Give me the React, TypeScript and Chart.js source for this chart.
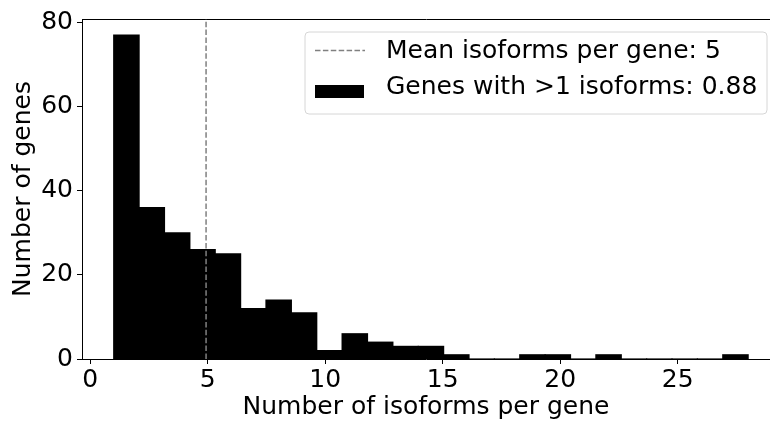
import React, { useEffect, useRef } from "react";
import { Chart, registerables } from "chart.js";

Chart.register(...registerables);

// ---- data ----
const BIN_START = 1;
const BIN_WIDTH = 1.08;
const binCounts = [77, 36, 30, 26, 25, 12, 14, 11, 2, 6, 4, 3, 3, 1, 0, 0, 1, 1, 0, 1, 0, 0, 0, 0, 1];
const MEAN_VALUE = 4.93;
const xTicks = [0, 5, 10, 15, 20, 25];
const yTicks = [0, 20, 40, 60, 80];
const meanLabel = "Mean isoforms per gene: 5";
const barLabel = "Genes with >1 isoforms: 0.88";
const xTitle = "Number of isoforms per gene";
const yTitle = "Number of genes";
const X_MIN = -0.35;
const X_MAX = 28.93;
const Y_MIN = 0;
const Y_MAX = 80.85;

const FONT = "'DejaVu Sans', sans-serif";
const FONT_SIZE = 25;

const legendPlugin = {
  id: "boxLegend",
  afterDraw(chart: any) {
    const ctx: CanvasRenderingContext2D = chart.ctx;
    const area = chart.chartArea;
    const bx = area.left + 223;
    const by = area.top + 13;
    const bw = 462;
    const bh = 82;
    const r = 4;
    ctx.save();
    ctx.beginPath();
    ctx.moveTo(bx + r, by);
    ctx.lineTo(bx + bw - r, by);
    ctx.arcTo(bx + bw, by, bx + bw, by + r, r);
    ctx.lineTo(bx + bw, by + bh - r);
    ctx.arcTo(bx + bw, by + bh, bx + bw - r, by + bh, r);
    ctx.lineTo(bx + r, by + bh);
    ctx.arcTo(bx, by + bh, bx, by + bh - r, r);
    ctx.lineTo(bx, by + r);
    ctx.arcTo(bx, by, bx + r, by, r);
    ctx.closePath();
    ctx.fillStyle = "rgba(255,255,255,0.8)";
    ctx.fill();
    ctx.strokeStyle = "#d6d6d6";
    ctx.lineWidth = 1;
    ctx.stroke();

    const ds = chart.data.datasets;
    const lineDs = ds[0];
    const barDs = ds[1];
    // line sample
    ctx.beginPath();
    ctx.setLineDash([5.5, 2.4]);
    ctx.strokeStyle = lineDs.borderColor;
    ctx.lineWidth = 1.5;
    ctx.moveTo(bx + 10, by + 18.5);
    ctx.lineTo(bx + 60, by + 18.5);
    ctx.stroke();
    ctx.setLineDash([]);
    // bar sample
    ctx.fillStyle = barDs.backgroundColor;
    ctx.fillRect(bx + 10, by + 53, 49, 13);

    ctx.fillStyle = "#000";
    ctx.font = `${FONT_SIZE}px ${FONT}`;
    ctx.textBaseline = "middle";
    ctx.textAlign = "left";
    ctx.fillText(lineDs.label, bx + 81, by + 19);
    ctx.fillText(barDs.label, bx + 81, by + 55);
    ctx.restore();
  },
};

export default function App() {
  const ref = useRef<HTMLCanvasElement | null>(null);

  useEffect(() => {
    if (!ref.current) return;
    const barData = binCounts.map((c, i) => ({ x: BIN_START + BIN_WIDTH * (i + 0.5), y: c }));
    const meanData = [
      { x: MEAN_VALUE, y: Y_MIN },
      { x: MEAN_VALUE, y: Y_MAX },
    ];
    const tickFont = { family: FONT, size: FONT_SIZE };
    const chart = new Chart(ref.current, {
      type: "bar",
      data: {
        datasets: [
          {
            type: "line",
            label: meanLabel,
            data: meanData,
            borderColor: "#808080",
            borderWidth: 1.5,
            borderDash: [5.5, 2.4],
            pointRadius: 0,
            fill: false,
            order: 0,
          } as any,
          {
            type: "bar",
            label: barLabel,
            data: barData,
            backgroundColor: "#000000",
            borderWidth: 0,
            inflateAmount: 0.6,
            barPercentage: 1,
            categoryPercentage: 1,
            order: 1,
          } as any,
        ],
      },
      options: {
        responsive: false,
        animation: false,
        devicePixelRatio: 1,
        layout: { padding: 0 },
        plugins: {
          legend: { display: false },
          tooltip: { enabled: false },
        },
        scales: {
          x: {
            type: "linear",
            position: "bottom",
            offset: false,
            min: X_MIN,
            max: X_MAX,
            afterBuildTicks: (s: any) => {
              s.ticks = xTicks.map((v) => ({ value: v }));
            },
            afterFit: (s: any) => {
              s.height = 62;
            },
            ticks: { font: tickFont, color: "#000", padding: 1, maxRotation: 0, autoSkip: false },
            grid: { drawOnChartArea: false, drawTicks: true, tickLength: 5, color: "#000", lineWidth: 1, offset: false },
            border: { display: true, color: "#000", width: 1 },
            title: { display: true, text: xTitle, font: tickFont, color: "#000", padding: { top: 0, bottom: -1 } },
          },
          x2: {
            type: "linear",
            position: "top",
            offset: false,
            min: X_MIN,
            max: X_MAX,
            afterFit: (s: any) => {
              s.height = 17;
            },
            ticks: { display: false },
            grid: { display: false, drawTicks: false },
            border: { display: true, color: "#000", width: 1 },
          },
          y: {
            type: "linear",
            min: Y_MIN,
            max: Y_MAX,
            afterBuildTicks: (s: any) => {
              s.ticks = yTicks.map((v) => ({ value: v }));
            },
            afterFit: (s: any) => {
              s.width = 82;
            },
            ticks: { font: tickFont, color: "#000", padding: 4, autoSkip: false },
            grid: { drawOnChartArea: false, drawTicks: true, tickLength: 5, color: "#000", lineWidth: 1 },
            border: { display: true, color: "#000", width: 1 },
            title: { display: true, text: yTitle, font: tickFont, color: "#000", padding: { top: 8, bottom: 0 } },
          },
        },
      } as any,
      plugins: [legendPlugin],
    });
    return () => chart.destroy();
  }, []);

  return (
    <div style={{ position: "fixed", left: 0, top: 0, width: 770, height: 421, background: "#fff" }}>
      <canvas ref={ref} width={770} height={421} style={{ display: "block" }} />
    </div>
  );
}
